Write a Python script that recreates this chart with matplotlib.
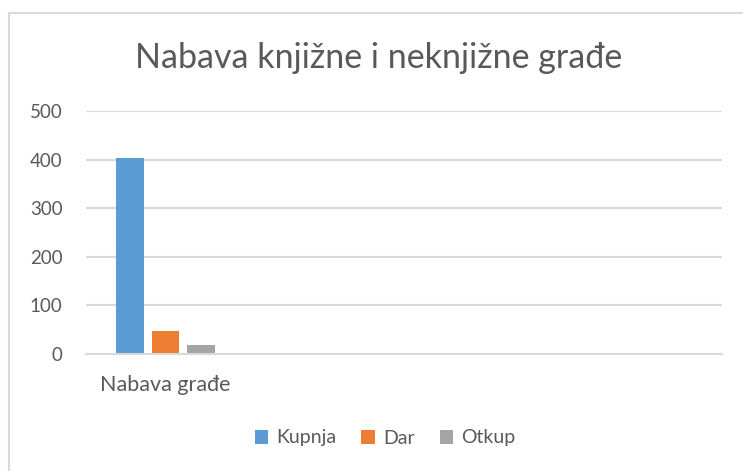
import numpy as np
import matplotlib
matplotlib.use("Agg")
import matplotlib.pyplot as plt
from matplotlib.lines import Line2D
from matplotlib.patches import Patch

categories = ["Nabava građe", "", "", ""]
series_names = ["Kupnja", "Dar", "Otkup"]
kupnja = [403, np.nan, np.nan, np.nan]
dar = [47, np.nan, np.nan, np.nan]
otkup = [18, np.nan, np.nan, np.nan]
yticks = [0, 100, 200, 300, 400, 500]
title = "Nabava knjižne i neknjižne građe"

colors = ["#5B9BD5", "#ED7D31", "#A5A5A5"]
text_color = "#595959"
grid_color = "#D9D9D9"

plt.rcParams['font.family'] = ['Lato', 'DejaVu Sans']

W, H = 743, 471
fig = plt.figure(figsize=(W / 100, H / 100), dpi=100)
ax = fig.add_axes([86 / W, 1 - 354 / H, (722 - 86) / W, (354 - 111) / H])

x = np.arange(len(categories))
width = 0.176
offset = 0.223
for i, (vals, name) in enumerate(zip([kupnja, dar, otkup], series_names)):
    ax.bar(x + (i - 1) * offset, vals, width, color=colors[i], label=name, zorder=3)

ax.set_xlim(-0.5, len(categories) - 0.5)
ax.set_ylim(0, 500)
ax.set_yticks(yticks)
ax.yaxis.grid(True, color=grid_color, linewidth=1.5, zorder=0)
for s in ["top", "right", "left"]:
    ax.spines[s].set_visible(False)
ax.spines["bottom"].set_color(grid_color)
ax.spines["bottom"].set_linewidth(1.5)
ax.spines["bottom"].set_zorder(4)
ax.tick_params(axis="y", length=0, pad=17, labelsize=13.5, labelcolor=text_color)
ax.set_xticks(x)
ax.set_xticklabels(categories)
ax.tick_params(axis="x", length=0, pad=15, labelsize=15.5, labelcolor=text_color)

fig.text(378.5 / W, 1 - 58 / H, title, ha="center", va="center",
         fontsize=24.5, color=text_color)

handles = [Patch(facecolor=c, edgecolor="none") for c in colors]
leg = fig.legend(handles, series_names, loc="center",
                 bbox_to_anchor=(385 / W, 1 - 438 / H), ncol=3, frameon=False,
                 fontsize=14, handlelength=0.7, handleheight=0.7,
                 handletextpad=0.4, columnspacing=1.3)
for t in leg.get_texts():
    t.set_color(text_color)

# chart border (left and top visible)
fig.add_artist(Line2D([8.5 / W, 8.5 / W], [0, 1 - 13 / H], transform=fig.transFigure,
                      color=grid_color, linewidth=1.5))
fig.add_artist(Line2D([8.5 / W, 1], [1 - 13 / H, 1 - 13 / H], transform=fig.transFigure,
                      color=grid_color, linewidth=1.5))

fig.savefig("out.png", dpi=100, facecolor="white")
